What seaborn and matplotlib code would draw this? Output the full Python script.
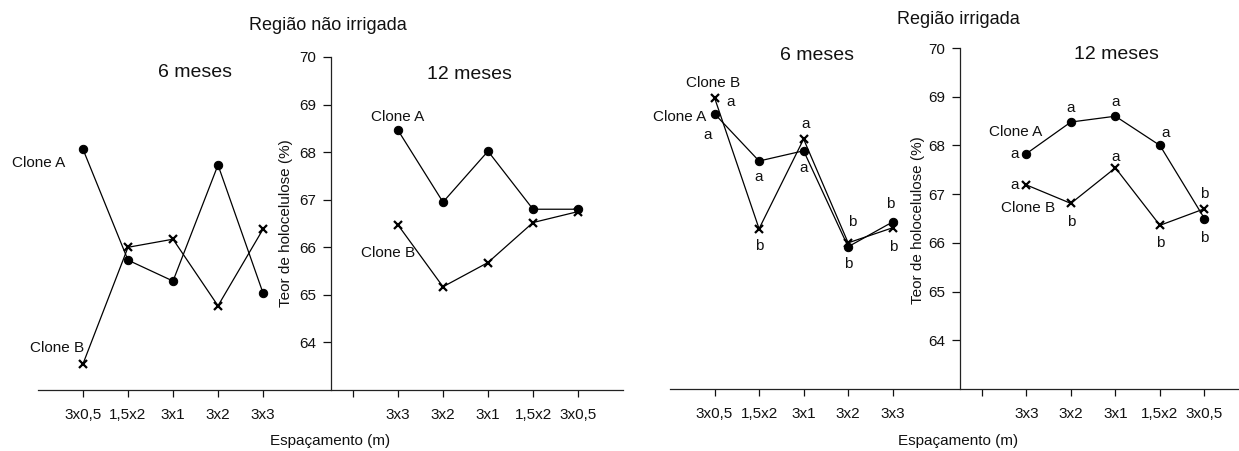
import numpy as np
import pandas as pd
import matplotlib.pyplot as plt
import seaborn as sns

# espaçamentos (ordem do eixo x em cada painel)
espac_6 = ["3x0,5", "1,5x2", "3x1", "3x2", "3x3"]
espac_12 = ["3x3", "3x2", "3x1", "1,5x2", "3x0,5"]

# Região não irrigada
nirr_6_A = [68.06, 65.73, 65.29, 67.73, 65.04]
nirr_6_B = [63.55, 66.00, 66.17, 64.77, 66.38]
nirr_12_A = [68.46, 66.95, 68.02, 66.80, 66.80]
nirr_12_B = [66.47, 65.17, 65.68, 66.52, 66.75]

# Região irrigada
irr_6_A = [68.65, 67.68, 67.89, 65.92, 66.43]
irr_6_B = [68.98, 66.29, 68.13, 66.00, 66.31]
irr_12_A = [67.83, 68.48, 68.60, 68.00, 66.50]
irr_12_B = [67.19, 66.81, 67.54, 66.36, 66.70]

# letras (teste de médias) - região irrigada
let_6_A = ["a", "a", "a", "b", "b"]
let_6_B = ["a", "b", "a", "b", "b"]
let_12_A = ["a", "a", "a", "a", "b"]
let_12_B = ["a", "b", "a", "b", "b"]

# deslocamento das letras (px)
off_6_A = [(-7, -21), (0, -16), (0, -17), (0, -17), (-2, 18)]
off_6_B = [(16, -4), (0, -17), (2, 15), (4, 21), (1, -19)]
off_12_A = [(-12, 0), (0, 14), (0, 14), (6, 12), (0, -19)]
off_12_B = [(-12, 0), (0, -19), (0, 11), (0, -18), (0, 15)]


def montar(v6a, v6b, v12a, v12b):
    rows = []
    for i, (a, b) in enumerate(zip(v6a, v6b)):
        rows.append(("6", "A", i, a))
        rows.append(("6", "B", i, b))
    for i, (a, b) in enumerate(zip(v12a, v12b)):
        rows.append(("12", "A", i + 7, a))
        rows.append(("12", "B", i + 7, b))
    return pd.DataFrame(rows, columns=["idade", "clone", "pos", "teor"])


df_nirr = montar(nirr_6_A, nirr_6_B, nirr_12_A, nirr_12_B)
df_irr = montar(irr_6_A, irr_6_B, irr_12_A, irr_12_B)

sns.set_style("ticks")
plt.rcParams["font.family"] = ["Liberation Sans", "DejaVu Sans"]
for k in ["text.color", "axes.labelcolor", "xtick.color", "ytick.color"]:
    plt.rcParams[k] = "#111111"

fig = plt.figure(figsize=(12.39, 4.51), dpi=100)
W, H = 1239, 451
ax1 = fig.add_axes([38 / W, 1 - 390 / H, (623 - 38) / W, (390 - 57) / H])
ax2 = fig.add_axes([670 / W, 1 - 389 / H, (1249 - 670) / W, (389 - 48) / H])

estilo = {"A": dict(marker="o", markersize=6),
          "B": dict(marker="x", markersize=6, markeredgewidth=1.6)}

for ax, df in [(ax1, df_nirr), (ax2, df_irr)]:
    for (idade, clone), sub in df.groupby(["idade", "clone"]):
        sns.lineplot(data=sub, x="pos", y="teor", color="black", lw=0.9,
                     markeredgecolor="black", ax=ax, **estilo[clone])
    ax.set_xlim(-1, 12)
    ax.set_ylim(63, 70)
    ax.spines["top"].set_visible(False)
    ax.spines["right"].set_visible(False)
    ax.spines["left"].set_position(("data", 5.5))
    for s in ["left", "bottom"]:
        ax.spines[s].set_linewidth(0.9)
        ax.spines[s].set_color("#222222")
    ax.set_xticks(list(range(5)) + [6] + list(range(7, 12)))
    ax.set_xticklabels(espac_6 + [""] + espac_12)
    ax.set_yticks(range(64, 71))
    ax.tick_params(axis="x", length=5, width=0.9, pad=8, labelsize=11)
    ax.tick_params(axis="y", length=6, width=0.9, pad=4, labelsize=11)
    ax.set_xlabel("Espaçamento (m)", fontsize=11)
    ax.set_ylabel("Teor de holocelulose (%)", fontsize=11)

ax1.xaxis.set_label_coords(0.50, -0.132)
ax1.yaxis.set_label_coords(0.436, 0.50)
ax2.xaxis.set_label_coords(0.497, -0.132)
ax2.yaxis.set_label_coords(0.44, 0.495)

# títulos
fig.text(328 / W, 1 - 25 / H, "Região não irrigada", ha="center", va="center", fontsize=13)
fig.text(958 / W, 1 - 20 / H, "Região irrigada", ha="center", va="center", fontsize=13)
ax1.text(2.49, 69.68, "6 meses", ha="center", va="center", fontsize=14)
ax1.text(8.58, 69.64, "12 meses", ha="center", va="center", fontsize=14)
ax2.text(2.29, 69.84, "6 meses", ha="center", va="center", fontsize=14)
ax2.text(9.03, 69.86, "12 meses", ha="center", va="center", fontsize=14)

# rótulos dos clones
ax1.text(-0.98, 67.77, "Clone A", ha="center", va="center", fontsize=11)
ax1.text(-0.58, 63.88, "Clone B", ha="center", va="center", fontsize=11)
ax1.text(7.0, 68.74, "Clone A", ha="center", va="center", fontsize=11)
ax1.text(6.78, 65.88, "Clone B", ha="center", va="center", fontsize=11)
ax2.text(-0.04, 69.28, "Clone B", ha="center", va="center", fontsize=11)
ax2.text(-0.18, 68.59, "Clone A", ha="right", va="center", fontsize=11)
ax2.text(6.76, 68.28, "Clone A", ha="center", va="center", fontsize=11)
ax2.text(7.03, 66.72, "Clone B", ha="center", va="center", fontsize=11)

# letras
for vals, lets, offs, base in [(irr_6_A, let_6_A, off_6_A, 0),
                               (irr_6_B, let_6_B, off_6_B, 0),
                               (irr_12_A, let_12_A, off_12_A, 7),
                               (irr_12_B, let_12_B, off_12_B, 7)]:
    for i, (v, l, (dx, dy)) in enumerate(zip(vals, lets, offs)):
        ax2.annotate(l, (base + i, v), xytext=(dx * 0.72, dy * 0.72),
                     textcoords="offset points", ha="center", va="center",
                     fontsize=11)

fig.savefig("out.png", dpi=100)
